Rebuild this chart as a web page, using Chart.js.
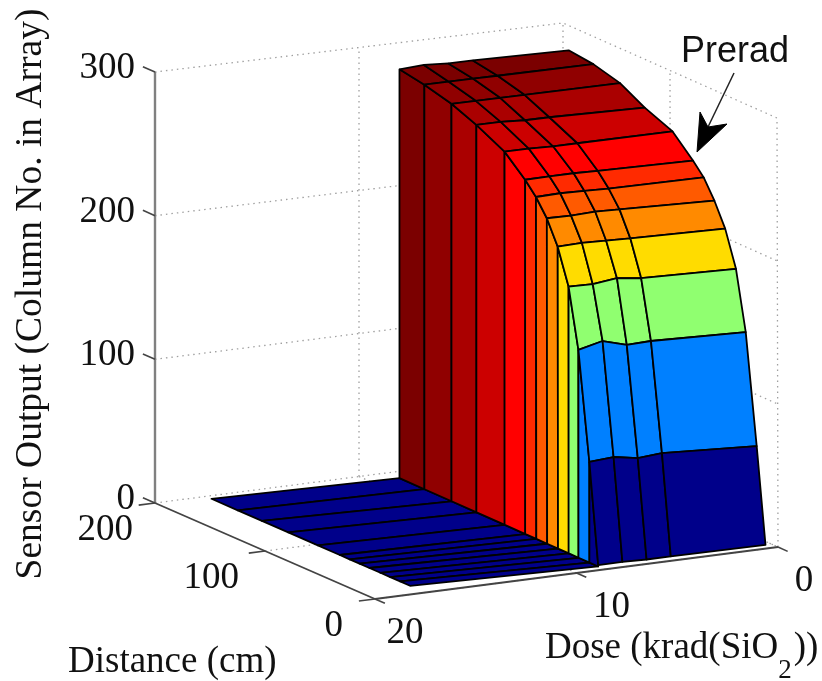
<!DOCTYPE html>
<html>
<head>
<meta charset="utf-8">
<title>Sensor output vs dose and distance</title>
<style>
    html, body { margin: 0; padding: 0; background: #fff; }
    canvas { display: block; filter: blur(0.5px); }
</style>
<script src="https://cdn.jsdelivr.net/npm/chart.js@4/dist/chart.umd.js"></script>
</head>
<body>
<canvas id="myChart" width="822" height="681"></canvas>
<script>
// values
const doseGrid = [8.6, 7.4, 6.2, 5, 0.3]
const doseFloorEnd = 17.5
const distGrid = [189, 166, 141, 118, 92, 73, 63, 53, 43, 33, 24, 14, 6]
const floorEndDist = [195, 171, 149, 125, 98, 78, 69, 60, 51, 41, 32, 23, 14]
const sensorRows = [
    [286, 287, 286, 286, 285],
    [283, 283, 283, 283, 283],
    [278, 278, 278, 278, 278],
    [271, 271, 270, 270, 268.5],
    [261, 261, 260.5, 260.5, 260.5],
    [247.7, 248, 248, 247.5, 246.4],
    [239, 239.5, 239, 238.5, 238],
    [227.5, 227.2, 227.8, 227.3, 225],
    [211, 211.5, 211, 210.4, 208.8],
    [186.5, 186, 188, 186, 184],
    [145.2, 149.3, 144.4, 145, 142.8],
    [70.3, 71.6, 68.7, 70, 66.4],
    [1, 1, 0.5, 0.5, 0],
]
const bandColors = ['#7b0000', '#900000', '#aa0000', '#cc0000', '#ff0000', '#ff2a00',
    '#ff5a00', '#ff8a00', '#ffdc00', '#90ff70', '#0080ff', '#00008a']
const floorColor = '#00008a'

const zTicks = [0, 100, 200, 300]
const distTicks = [0, 100, 200]
const doseTicks = [0, 10, 20]
const zTickLabels = ['0', '100', '200', '300']
const distTickLabels = ['0', '100', '200']
const doseTickLabels = ['0', '10', '20']

// box corners on the page, [x, y] at z=0 and z=300
const floorCorners = { near: [375, 599], left: [155, 503], right: [778, 547], back: [563, 450] }
const topCorners = { near: [375, 169], left: [155, 72], right: [777, 118], back: [563, 23] }

function mix(a, b, f) {
    return a + (b - a) * f
}
function plane(c, dose, dist) {
    const s = dose / 20, t = dist / 200
    return [0, 1].map(k => mix(
        mix(c.right[k], c.near[k], s),
        mix(c.back[k], c.left[k], s),
        t))
}
function project(dose, dist, z) {
    const lo = plane(floorCorners, dose, dist), hi = plane(topCorners, dose, dist)
    const f = z / 300
    return { x: mix(lo[0], hi[0], f), y: mix(lo[1], hi[1], f) }
}

const datasets = []
function addLine(points, color, width, dash) {
    datasets.push({
        data: points, showLine: true, fill: false, pointRadius: 0,
        borderColor: color, borderWidth: width, borderDash: dash || [],
    })
}
function addFace(points, color) {
    datasets.push({
        data: points.concat([points[0]]), showLine: true, fill: 'shape', pointRadius: 0,
        backgroundColor: color, borderColor: '#000', borderWidth: 1.8, borderJoinStyle: 'round',
    })
}

// dotted grid on the back walls and the floor
const dots = [1.5, 4]
const gridColor = '#a0a0a0'
zTicks.forEach(z => {
    addLine([project(20, 200, z), project(0, 200, z), project(0, 0, z)], gridColor, 1.3, dots)
})
doseTicks.slice(0, 2).forEach(d => {
    addLine([project(d, 200, 0), project(d, 200, 300)], gridColor, 1.3, dots)
    addLine([project(d, 0, 0), project(d, 200, 0)], gridColor, 1.3, dots)
})
distTicks.slice(0, 2).forEach(d => {
    addLine([project(0, d, 0), project(0, d, 300)], gridColor, 1.3, dots)
    addLine([project(20, d, 0), project(0, d, 0)], gridColor, 1.3, dots)
})

// axis lines and tick marks
const axisColor = '#444'
addLine([project(20, 200, 0), project(20, 200, 300)], '#808080', 2.4)
addLine([project(20, 200, 0), project(20, 0, 0)], axisColor, 1.8)
addLine([project(20, 0, 0), project(0, 0, 0)], axisColor, 2)
zTicks.forEach(z => addLine([project(20, 200, z), project(20, 211, z)], axisColor, 1.6))
distTicks.forEach(d => addLine([project(20, d, 0), project(20.8, d, 0)], axisColor, 1.6))
doseTicks.forEach(d => addLine([project(d, 0, 0), project(d, -9, 0)], axisColor, 1.6))

// floor, far row first
for (let i = 0; i < distGrid.length - 1; i++) {
    addFace([
        project(doseGrid[0], distGrid[i], 0), project(doseFloorEnd, floorEndDist[i], 0),
        project(doseFloorEnd, floorEndDist[i + 1], 0), project(doseGrid[0], distGrid[i + 1], 0),
    ], floorColor)
}
// wall and top of the surface, one colour band per row
for (let i = 0; i < distGrid.length - 1; i++) {
    addFace([
        project(doseGrid[0], distGrid[i], 0), project(doseGrid[0], distGrid[i], sensorRows[i][0]),
        project(doseGrid[0], distGrid[i + 1], sensorRows[i + 1][0]), project(doseGrid[0], distGrid[i + 1], 0),
    ], bandColors[i])
    for (let j = 0; j < doseGrid.length - 1; j++) {
        addFace([
            project(doseGrid[j], distGrid[i], sensorRows[i][j]),
            project(doseGrid[j + 1], distGrid[i], sensorRows[i][j + 1]),
            project(doseGrid[j + 1], distGrid[i + 1], sensorRows[i + 1][j + 1]),
            project(doseGrid[j], distGrid[i + 1], sensorRows[i + 1][j]),
        ], bandColors[i])
    }
}

// Prerad arrow
addLine([{ x: 734, y: 73 }, { x: 708, y: 127 }], '#222', 1.5)
datasets.push({
    data: [{ x: 697, y: 152 }, { x: 700, y: 112 }, { x: 708, y: 127 }, { x: 727, y: 124 }, { x: 697, y: 152 }],
    showLine: true, fill: 'shape', pointRadius: 0, backgroundColor: '#000', borderColor: '#000', borderWidth: 1,
})

// first dataset is painted last, so flip to keep back to front order
datasets.reverse()

const serif = '37px "Liberation Serif"'
const distLabelShift = [-32, -26, -22]
const doseLabelShift = [26, 35, 30]
const textPlugin = {
    id: 'boxText',
    afterDraw(chart) {
        const ctx = chart.ctx
        const sx = chart.scales.x, sy = chart.scales.y
        ctx.save()
        ctx.fillStyle = '#111'
        ctx.font = serif
        ctx.textBaseline = 'alphabetic'

        function put(text, pos, dx, dy, align) {
            ctx.textAlign = align
            ctx.fillText(text, sx.getPixelForValue(pos.x) + dx, sy.getPixelForValue(pos.y) + dy)
        }
        zTicks.forEach((z, i) => put(zTickLabels[i], project(20, 200, z), -20, 6, 'right'))
        distTicks.forEach((d, i) => put(distTickLabels[i], project(20, d, 0), distLabelShift[i], 37, 'right'))
        doseTicks.forEach((d, i) => put(doseTickLabels[i], project(d, 0, 0), doseLabelShift[i], 44, 'center'))

        ctx.textAlign = 'left'
        ctx.fillText('Distance (cm)', 68, 672)

        // dose title with the subscript set by hand
        let x = 545
        ctx.fillText('Dose (krad(SiO', x, 658)
        x += ctx.measureText('Dose (krad(SiO').width
        ctx.font = '27px "Liberation Serif"'
        ctx.fillText('2', x, 678)
        x += ctx.measureText('2').width + 2
        ctx.font = serif
        ctx.fillText('))', x, 658)

        ctx.font = '36px "Liberation Sans"'
        ctx.fillText('Prerad', 681, 62)

        ctx.font = '37.5px "Liberation Serif"'
        ctx.translate(41, 294)
        ctx.rotate(-Math.PI / 2)
        ctx.textAlign = 'center'
        ctx.fillText('Sensor Output (Column No. in Array)', 0, 0)
        ctx.restore()
    },
}

const myChart = new Chart(document.getElementById('myChart'), {
    type: 'scatter',
    data: { datasets: datasets },
    options: {
        responsive: false,
        animation: false,
        layout: { padding: 0 },
        scales: {
            x: { type: 'linear', min: 0, max: 822, display: false },
            y: { type: 'linear', min: 0, max: 681, reverse: true, display: false },
        },
        plugins: { legend: { display: false }, tooltip: { enabled: false } },
    },
    plugins: [textPlugin],
})
</script>
</body>
</html>
